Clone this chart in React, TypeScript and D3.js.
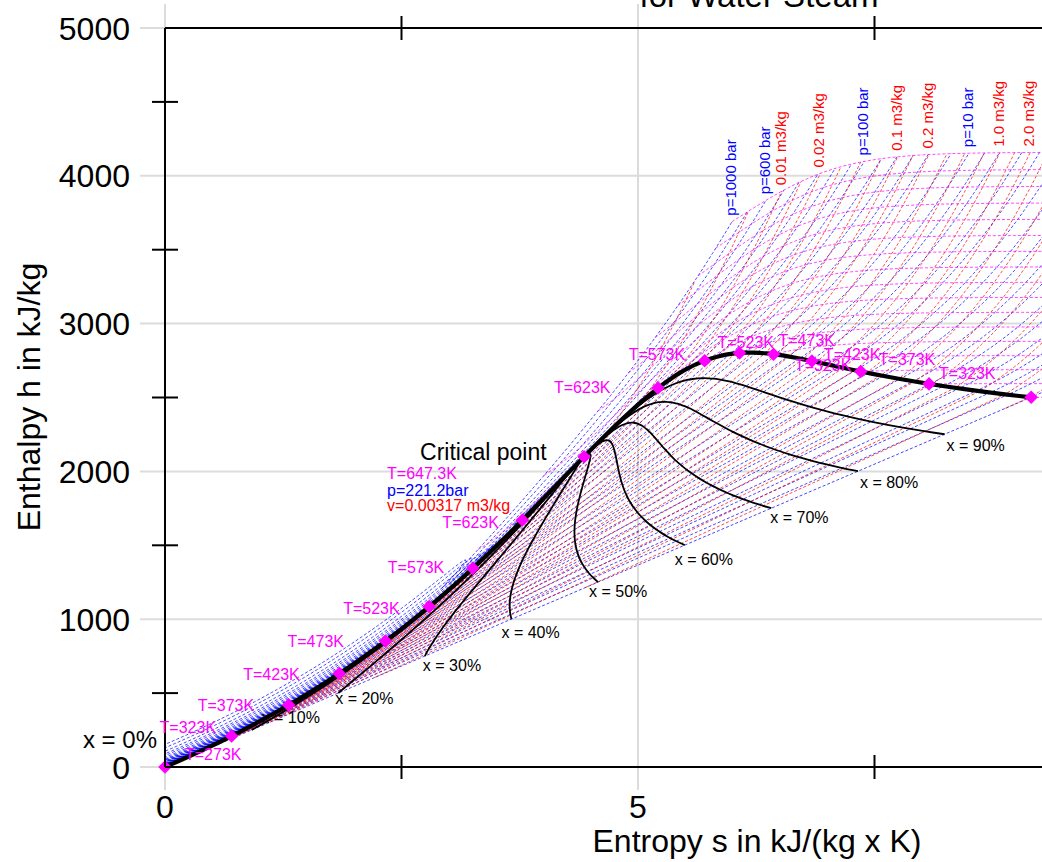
import { useMemo } from "react";
import * as d3 from "d3";

type Pt = { s: number; h: number };

// saturated water / steam (steam table rows)
const satTempC = [0.01, 10, 20, 30, 40, 50, 60, 70, 80, 90, 100, 110, 120, 130, 140, 150, 160, 170, 180, 190, 200, 210, 220, 230, 240, 250, 260, 270, 280, 290, 300, 310, 320, 330, 340, 350, 360, 370, 374.14];
const satPressBar = [0.006113, 0.012276, 0.02339, 0.04246, 0.07384, 0.12349, 0.1994, 0.3119, 0.4739, 0.7014, 1.0135, 1.4327, 1.9853, 2.701, 3.613, 4.758, 6.178, 7.917, 10.021, 12.544, 15.538, 19.062, 23.18, 27.95, 33.44, 39.73, 46.88, 54.99, 64.12, 74.36, 85.81, 98.56, 112.74, 128.39, 145.86, 165.13, 186.51, 210.3, 220.9];
const satHf = [0.01, 42.01, 83.96, 125.79, 167.57, 209.33, 251.13, 292.98, 334.91, 376.92, 419.04, 461.3, 503.71, 546.31, 589.13, 632.2, 675.55, 719.21, 763.22, 807.62, 852.45, 897.76, 943.62, 990.12, 1037.32, 1085.36, 1134.37, 1184.51, 1235.99, 1289.07, 1344.0, 1401.3, 1461.5, 1525.3, 1594.2, 1670.6, 1760.5, 1890.5, 2099.3];
const satHg = [2501.4, 2519.8, 2538.1, 2556.3, 2574.3, 2592.1, 2609.6, 2626.8, 2643.7, 2660.1, 2676.1, 2691.5, 2706.3, 2720.5, 2733.9, 2746.5, 2758.1, 2768.7, 2778.2, 2786.4, 2793.2, 2798.5, 2802.1, 2804.0, 2803.8, 2801.5, 2796.6, 2789.7, 2779.6, 2766.2, 2749.0, 2727.3, 2700.1, 2666.3, 2622.0, 2563.9, 2481.0, 2332.1, 2099.3];
const satSf = [0, 0.151, 0.2966, 0.4369, 0.5725, 0.7038, 0.8312, 0.9549, 1.0753, 1.1925, 1.3069, 1.4185, 1.5276, 1.6344, 1.7391, 1.8418, 1.9427, 2.0419, 2.1396, 2.2359, 2.3309, 2.4248, 2.5178, 2.6099, 2.7015, 2.7927, 2.8838, 2.9751, 3.0668, 3.1594, 3.2534, 3.3493, 3.448, 3.5507, 3.6594, 3.7777, 3.9147, 4.1106, 4.4298];
const satSg = [9.1562, 8.9008, 8.6672, 8.4533, 8.257, 8.0763, 7.9096, 7.7553, 7.6122, 7.4791, 7.3549, 7.2387, 7.1296, 7.0269, 6.9299, 6.8379, 6.7502, 6.6663, 6.5857, 6.5079, 6.4323, 6.3585, 6.2861, 6.2146, 6.1437, 6.073, 6.0019, 5.9301, 5.8571, 5.7821, 5.7045, 5.623, 5.5362, 5.4417, 5.3357, 5.2112, 5.0526, 4.7971, 4.4298];
const satVf = [0.001, 0.001, 0.001002, 0.001004, 0.001008, 0.001012, 0.001017, 0.001023, 0.001029, 0.001036, 0.001043, 0.001052, 0.00106, 0.00107, 0.00108, 0.001091, 0.001102, 0.001114, 0.001127, 0.001141, 0.001157, 0.001173, 0.00119, 0.001209, 0.001229, 0.001251, 0.001276, 0.001302, 0.001332, 0.001366, 0.001404, 0.001447, 0.001499, 0.001561, 0.001638, 0.00174, 0.001893, 0.002213, 0.003155];
const satVg = [206.14, 106.38, 57.79, 32.89, 19.52, 12.03, 7.671, 5.042, 3.407, 2.361, 1.6729, 1.2102, 0.8919, 0.6685, 0.5089, 0.3928, 0.3071, 0.2428, 0.19405, 0.15654, 0.12736, 0.10441, 0.08619, 0.07158, 0.05976, 0.05013, 0.04221, 0.03564, 0.03017, 0.02557, 0.02167, 0.01835, 0.01549, 0.013, 0.0108, 0.008813, 0.006945, 0.004925, 0.003155];

// low pressure steam (ideal gas limit): h in kJ/kg, s at 1 bar
const idealTempC = [0, 50, 100, 150, 200, 250, 300, 350, 400, 450, 500, 550, 600, 650, 700, 750, 800];
const idealH = [2501.7, 2593.9, 2688.2, 2783.4, 2879.8, 2977.5, 3076.7, 3177.3, 3279.7, 3383.6, 3489.2, 3596.6, 3705.5, 3816.3, 3928.8, 4042.7, 4159.1];
const idealS1bar = [6.8035, 7.1122, 7.3852, 7.6255, 7.8411, 8.0375, 8.2186, 8.3876, 8.545, 8.6926, 8.8351, 8.9686, 9.0981, 9.2206, 9.3401, 9.4533, 9.5654];

// iso-lines drawn
const isobarBar = [1000, 800, 600, 450, 350, 250, 180, 130, 100, 70, 50, 35, 25, 15, 10, 7, 5, 3, 2, 1.2, 0.8, 0.5, 0.3, 0.2, 0.12, 0.08, 0.05, 0.03, 0.02, 0.012, 0.00612];
const isochoreM3 = [0.004, 0.006, 0.01, 0.014, 0.02, 0.03, 0.045, 0.07, 0.1, 0.14, 0.2, 0.3, 0.45, 0.7, 1.0, 1.4, 2.0, 3.0, 5.0, 8.0, 13, 25, 50, 100, 200];
const isothermK = [273.15, 323.15, 373.15, 423.15, 473.15, 523.15, 573.15, 623.15, 673.15, 723.15, 773.15, 823.15, 873.15, 923.15, 973.15, 1023.15, 1073.15];
const qualities = [0.1, 0.2, 0.3, 0.4, 0.5, 0.6, 0.7, 0.8, 0.9];
const qualityText = ["x = 10%", "x = 20%", "x = 30%", "x = 40%", "x = 50%", "x = 60%", "x = 70%", "x = 80%", "x = 90%"];

const labeledIsobars = [1000, 600, 100, 10];
const labeledIsobarText = ["p=1000 bar", "p=600 bar", "p=100 bar", "p=10 bar"];
const labeledIsochores = [0.01, 0.02, 0.1, 0.2, 1.0, 2.0];
const labeledIsochoreText = ["0.01 m3/kg", "0.02 m3/kg", "0.1 m3/kg", "0.2 m3/kg", "1.0 m3/kg", "2.0 m3/kg"];

const markerRows = [0, 5, 10, 15, 20, 25, 30, 35];
const markerText = ["T=273K", "T=323K", "T=373K", "T=423K", "T=473K", "T=523K", "T=573K", "T=623K"];
const critText = ["T=647.3K", "p=221.2bar", "v=0.00317 m3/kg"];

const enthalpyTicks = [0, 1000, 2000, 3000, 4000, 5000];
const enthalpyMinor = [500, 1500, 2500, 3500, 4500];
const entropyTicks = [0, 5];
const entropyMinor = [2.5, 7.5];

// label offsets in px (layout only)
const liqLabelOff = [[20, -7], [-72, -3], [-91, 6], [-96, 6], [-98, 6], [-86, 7], [-85, 5], [-80, 8]];
const vapLabelOff = [[14, -3], [10, -5], [18, -6], [12, -1], [5, -8], [-22, -5], [-76, -1], [-104, 5]];
const qualityOff = [[10, -7], [-3, 11], [-2, 15], [-10, 19], [-9, 15], [-10, 20], [-1, 15], [2, 17], [2, 17]];

const FONT = "'Liberation Sans', Arial, Helvetica, sans-serif";
const x = d3.scaleLinear().domain([0, 5]).range([165, 638]);
const y = d3.scaleLinear().domain([0, 5000]).range([767, 28]);

// ---- property helpers (steam tables + Peng-Robinson departures) ----
const R = 0.461526;
const TC = 647.29, PC = 220.9;
const KAP = 0.37464 + 1.54226 * 0.3443 - 0.26992 * 0.3443 * 0.3443;
const AC = (0.45724 * R * R * TC * TC) / (PC * 100);
const BC = (0.0778 * R * TC) / (PC * 100);
const S2 = Math.SQRT2;
const satTK = satTempC.map((t) => t + 273.15);
const idealTK = idealTempC.map((t) => t + 273.15);
const lnPsat = satPressBar.map(Math.log);
const nlnVg = satVg.map((v) => -Math.log(v));

const idx = (arr: number[], v: number) => Math.max(0, Math.min(arr.length - 2, d3.bisectRight(arr, v) - 1));

function igH(T: number) {
  const i = idx(idealTK, T);
  const f = (T - idealTK[i]) / (idealTK[i + 1] - idealTK[i]);
  return idealH[i] + f * (idealH[i + 1] - idealH[i]);
}
function igS(T: number) {
  const i = idx(idealTK, T);
  const f = Math.log(T / idealTK[i]) / Math.log(idealTK[i + 1] / idealTK[i]);
  return idealS1bar[i] + f * (idealS1bar[i + 1] - idealS1bar[i]);
}
function satAt(T: number) {
  const i = idx(satTK, T);
  const f = Math.max(0, Math.min(1, (T - satTK[i]) / (satTK[i + 1] - satTK[i])));
  const lin = (a: number[]) => a[i] + f * (a[i + 1] - a[i]);
  const lg = (a: number[]) => Math.exp(Math.log(a[i]) + f * (Math.log(a[i + 1]) - Math.log(a[i])));
  return { p: lg(satPressBar), hf: lin(satHf), hg: lin(satHg), sf: lin(satSf), sg: lin(satSg), vf: lin(satVf), vg: lg(satVg) };
}
function tsatOfP(p: number) {
  const l = Math.log(p), i = idx(lnPsat, l);
  const f = (l - lnPsat[i]) / (lnPsat[i + 1] - lnPsat[i]);
  return satTK[i] + f * (satTK[i + 1] - satTK[i]);
}
function tsatOfV(v: number) {
  const l = -Math.log(v), i = idx(nlnVg, l);
  const f = (l - nlnVg[i]) / (nlnVg[i + 1] - nlnVg[i]);
  return satTK[i] + f * (satTK[i + 1] - satTK[i]);
}

function cubicRoots(c2: number, c1: number, c0: number) {
  const q = (3 * c1 - c2 * c2) / 9;
  const r = (9 * c2 * c1 - 27 * c0 - 2 * c2 * c2 * c2) / 54;
  const disc = q * q * q + r * r;
  let zs: number[];
  if (disc >= 0) {
    const sd = Math.sqrt(disc);
    zs = [Math.cbrt(r + sd) + Math.cbrt(r - sd) - c2 / 3];
  } else {
    const th = Math.acos(Math.max(-1, Math.min(1, r / Math.sqrt(-q * q * q))));
    const m = 2 * Math.sqrt(-q);
    zs = [0, 1, 2].map((k) => m * Math.cos((th + 2 * Math.PI * k) / 3) - c2 / 3);
  }
  return zs.map((z0) => {
    let z = z0;
    for (let k = 0; k < 6; k++) {
      const f = ((z + c2) * z + c1) * z + c0;
      const fp = (3 * z + 2 * c2) * z + c1;
      if (Math.abs(fp) < 1e-14) break;
      const dz = f / fp;
      if (Math.abs(dz) > 0.05 * Math.abs(z) + 1e-12) break;
      z -= dz;
    }
    return z;
  });
}

function pr(T: number, pBar: number, phase: string) {
  const p = pBar * 100, RT = R * T;
  const m = 1 + KAP * (1 - Math.sqrt(T / TC));
  const a = AC * m * m, da = (-AC * KAP * m) / Math.sqrt(T * TC);
  const A = (a * p) / (RT * RT), B = (BC * p) / RT;
  let zs = cubicRoots(-(1 - B), A - 3 * B * B - 2 * B, -(A * B - B * B - B * B * B)).filter((z) => z > B && Number.isFinite(z));
  if (!zs.length) zs = [1];
  const lt = (z: number) => Math.log((z + (1 + S2) * B) / (z + (1 - S2) * B));
  let Z = zs[0];
  if (phase === "V") Z = Math.max(...zs);
  else if (phase === "L") Z = Math.min(...zs);
  else {
    let best = Infinity;
    for (const z of zs) {
      const lp = z - 1 - Math.log(z - B) - (A / (2 * S2 * B)) * lt(z);
      if (lp < best) { best = lp; Z = z; }
    }
  }
  const L = lt(Z);
  return { Z, h: RT * (Z - 1) + ((T * da - a) / (2 * S2 * BC)) * L, s: R * Math.log(Z - B) + (da / (2 * S2 * BC)) * L };
}

const crit = pr(TC + 0.05, PC, "A");
const KH_C = (2099.3 - igH(TC)) / crit.h;
const KS_C = (4.4298 - (igS(TC) - R * Math.log(PC))) / crit.s;
const KZ_C = ((0.003155 * PC * 100) / (R * TC) - 1) / (crit.Z - 1);

const anchorCache = new Map<string, { h: number; s: number; z: number }>();
function anchor(T: number, ph: string) {
  const key = ph + T.toFixed(4);
  let k = anchorCache.get(key);
  if (!k) {
    if (T < TC) {
      const st = satAt(T);
      const rs = pr(T, st.p, ph);
      const h0 = ph === "V" ? st.hg : st.hf, s0 = ph === "V" ? st.sg : st.sf, v0 = ph === "V" ? st.vg : st.vf;
      k = {
        h: (h0 - igH(T)) / rs.h,
        s: (s0 - (igS(T) - R * Math.log(st.p))) / rs.s,
        z: ((v0 * st.p * 100) / (R * T) - 1) / (rs.Z - 1),
      };
    } else {
      const f = Math.max(0, 1 - (T - TC) / 120);
      k = { h: 1 + (KH_C - 1) * f, s: 1 + (KS_C - 1) * f, z: 1 + (KZ_C - 1) * f };
    }
    anchorCache.set(key, k);
  }
  return k;
}
function state(T: number, p: number, phase?: string) {
  let ph = phase;
  if (T >= TC) ph = "A";
  else if (!ph) ph = p < satAt(T).p ? "V" : "L";
  const r = pr(T, p, ph);
  const k = anchor(T, ph === "A" ? "V" : ph);
  return { s: igS(T) - R * Math.log(p) + k.s * r.s, h: igH(T) + k.h * r.h, v: ((1 + k.z * (r.Z - 1)) * R * T) / (p * 100) };
}

const tGrid = d3.range(273.15, 1073.16, 10);

function isobarPoints(p: number): Pt[] {
  const pts: Pt[] = [];
  if (p < PC) {
    const Ts = tsatOfP(p);
    for (const T of tGrid) if (T < Ts - 0.5) pts.push(state(T, p, "L"));
    const st = satAt(Ts);
    pts.push({ s: st.sf, h: st.hf }, { s: st.sg, h: st.hg });
    for (const T of tGrid) if (T > Ts + 0.5) pts.push(state(T, p, "V"));
  } else {
    for (const T of d3.range(273.15, 1073.16, 5)) pts.push(state(T, p));
  }
  return pts;
}

function isochorePoints(v: number): Pt[] {
  const Tv = tsatOfV(v);
  const pts: Pt[] = [];
  for (let i = 0; i < satTK.length && satTK[i] < Tv; i++) {
    const q = (v - satVf[i]) / (satVg[i] - satVf[i]);
    pts.push({ s: satSf[i] + q * (satSg[i] - satSf[i]), h: satHf[i] + q * (satHg[i] - satHf[i]) });
  }
  const st = satAt(Tv);
  pts.push({ s: st.sg, h: st.hg });
  for (const T of tGrid) {
    if (T <= Tv + 0.5) continue;
    const ph = T < TC ? "V" : undefined;
    if (T >= TC && state(T, 1000).v > v) break;
    let lo = Math.log(1e-5), hi = Math.log(T < TC ? satAt(T).p : 1000);
    for (let k = 0; k < 36; k++) {
      const mid = (lo + hi) / 2;
      if (state(T, Math.exp(mid), ph).v > v) lo = mid; else hi = mid;
    }
    pts.push(state(T, Math.exp((lo + hi) / 2), ph));
  }
  return pts;
}

function isothermPoints(T: number): Pt[] {
  const pts: Pt[] = [];
  const ratio = Math.pow(10, 0.04);
  const start = T < TC ? satAt(T).p : 1000;
  for (let p = start; p > 1e-5; p /= ratio) {
    const q = state(T, p, T < TC ? "V" : undefined);
    pts.push(q);
    if (q.s > 9.6) break;
  }
  return pts;
}

const diamond = d3.symbol(d3.symbolSquare, 92)();

export default function App() {
  const c = useMemo(() => {
    const line = d3.line<Pt>().x((d) => x(d.s)).y((d) => y(d.h)).defined((d) => Number.isFinite(d.s) && Number.isFinite(d.h));
    const smooth = d3.line<Pt>().x((d) => x(d.s)).y((d) => y(d.h)).curve(d3.curveCatmullRom.alpha(0.5));
    const isobars = isobarBar.map((p) => ({ p, pts: isobarPoints(p) }));
    const isochores = isochoreM3.map((v) => ({ v, pts: isochorePoints(v) }));
    const isotherms = isothermK.map((T) => isothermPoints(T));
    const liquid: Pt[] = satTK.map((_, i) => ({ s: satSf[i], h: satHf[i] }));
    const vapor: Pt[] = satTK.map((_, i) => ({ s: satSg[i], h: satHg[i] })).reverse();
    const qlines = qualities.map((q) => satTK.map((_, i) => ({ s: satSf[i] + q * (satSg[i] - satSf[i]), h: satHf[i] + q * (satHg[i] - satHf[i]) })));
    const pLabels = labeledIsobars.map((p, i) => {
      const pts = isobars.find((b) => b.p === p)!.pts;
      return { text: labeledIsobarText[i], end: pts[pts.length - 1] };
    });
    const vLabels = labeledIsochores.map((v, i) => {
      const pts = isochores.find((b) => b.v === v)!.pts;
      return { text: labeledIsochoreText[i], end: pts[pts.length - 1] };
    });
    return {
      isobarPaths: isobars.map((b) => line(b.pts) || ""),
      isochorePaths: isochores.map((b) => line(b.pts) || ""),
      isothermPaths: isotherms.map((pts) => line(pts) || ""),
      dome: smooth([...liquid, ...vapor]) || "",
      qpaths: qlines.map((pts) => smooth(pts) || ""),
      qends: qlines.map((pts) => pts[0]),
      pLabels,
      vLabels,
    };
  }, []);

  const crx = x(4.4298), cry = y(2099.3);
  const dash = { fill: "none", strokeWidth: 0.9, strokeDasharray: "3,2", strokeOpacity: 0.8 };

  return (
    <svg width={1042} height={862} style={{ position: "absolute", left: 0, top: 0, background: "#fff" }} fontFamily={FONT}>
      <defs>
        <clipPath id="plot">
          <rect x={165} y={28} width={1042 - 165} height={767 - 28} />
        </clipPath>
      </defs>
      {/* grid */}
      {enthalpyTicks.map((h) => (
        <line key={"gh" + h} x1={140} x2={1042} y1={y(h)} y2={y(h)} stroke="#dcdcdc" strokeWidth={2} />
      ))}
      {entropyTicks.map((s) => (
        <line key={"gs" + s} x1={x(s)} x2={x(s)} y1={4} y2={790} stroke="#dcdcdc" strokeWidth={2} />
      ))}

      <g clipPath="url(#plot)">
        {c.isobarPaths.map((d, i) => (
          <path key={"pb" + i} d={d} stroke="#0000ff" {...dash} />
        ))}
        {c.isochorePaths.map((d, i) => (
          <path key={"pv" + i} d={d} stroke="#ff0000" {...dash} />
        ))}
        {c.isothermPaths.map((d, i) => (
          <path key={"pt" + i} d={d} stroke="#ff00ff" {...dash} />
        ))}
        {c.qpaths.map((d, i) => (
          <path key={"q" + i} d={d} fill="none" stroke="#000" strokeWidth={1.8} />
        ))}
        <path d={c.dome} fill="none" stroke="#000" strokeWidth={4.2} strokeLinejoin="round" />
      </g>

      {/* saturation markers */}
      {markerRows.map((r) => (
        <g key={"m" + r}>
          <path d={diamond} transform={`translate(${x(satSf[r])},${y(satHf[r])}) rotate(45)`} fill="#ff00ff" />
          <path d={diamond} transform={`translate(${x(satSg[r])},${y(satHg[r])}) rotate(45)`} fill="#ff00ff" />
        </g>
      ))}
      <path d={diamond} transform={`translate(${crx},${cry}) rotate(45)`} fill="#ff00ff" />

      {/* axes */}
      <line x1={165} x2={165} y1={28} y2={767} stroke="#000" strokeWidth={2} />
      <line x1={165} x2={1042} y1={28} y2={28} stroke="#000" strokeWidth={2} />
      <line x1={165} x2={1042} y1={767} y2={767} stroke="#000" strokeWidth={2} />
      {enthalpyMinor.map((h) => (
        <line key={"mh" + h} x1={152} x2={178} y1={y(h)} y2={y(h)} stroke="#000" strokeWidth={2} />
      ))}
      {entropyMinor.map((s) => (
        <g key={"ms" + s}>
          <line x1={x(s)} x2={x(s)} y1={16} y2={40} stroke="#000" strokeWidth={2} />
          <line x1={x(s)} x2={x(s)} y1={755} y2={779} stroke="#000" strokeWidth={2} />
        </g>
      ))}
      {enthalpyTicks.map((h) => (
        <text key={"th" + h} x={130} y={y(h) + 11.5} textAnchor="end" fontSize={32}>
          {h}
        </text>
      ))}
      {entropyTicks.map((s) => (
        <text key={"ts" + s} x={x(s)} y={818} textAnchor="middle" fontSize={32}>
          {s}
        </text>
      ))}
      <text x={757} y={852} textAnchor="middle" fontSize={32}>
        Entropy s in kJ/(kg x K)
      </text>
      <text transform="translate(40,397) rotate(-90)" textAnchor="middle" fontSize={32}>
        Enthalpy h in kJ/kg
      </text>
      <text x={759} y={7} textAnchor="middle" fontSize={33}>
        for Water Steam
      </text>

      {/* saturation labels */}
      {markerRows.map((r, i) => (
        <g key={"ml" + r} fontSize={16} fill="#ff00ff">
          <text x={x(satSf[r]) + liqLabelOff[i][0]} y={y(satHf[r]) + liqLabelOff[i][1]}>
            {markerText[i]}
          </text>
          <text x={x(satSg[r]) + vapLabelOff[i][0]} y={y(satHg[r]) + vapLabelOff[i][1]}>
            {markerText[i]}
          </text>
        </g>
      ))}
      <text x={x(satSg[15]) - 17} y={y(satHg[15]) + 10} fontSize={16} fill="#ff00ff">
        {markerText[1]}
      </text>
      <text x={crx - 164} y={cry + 3} fontSize={23}>
        Critical point
      </text>
      <text x={crx - 197} y={cry + 22} fontSize={16} fill="#ff00ff">
        {critText[0]}
      </text>
      <text x={crx - 197} y={cry + 39} fontSize={16} fill="#0000ff">
        {critText[1]}
      </text>
      <text x={crx - 197} y={cry + 54} fontSize={16} fill="#ff0000">
        {critText[2]}
      </text>

      {/* quality labels */}
      {c.qends.map((p, i) => (
        <text key={"ql" + i} x={x(p.s) + qualityOff[i][0]} y={y(p.h) + qualityOff[i][1]} fontSize={16}>
          {qualityText[i]}
        </text>
      ))}
      <text x={x(0) - 8} y={y(0) - 19} textAnchor="end" fontSize={24}>
        x = 0%
      </text>

      {/* line labels at the top isotherm */}
      {c.pLabels.map((l) => (
        <text key={l.text} transform={`translate(${x(l.end.s) + 4},${y(l.end.h) - 6}) rotate(-90)`} fontSize={15} fill="#0000ff">
          {l.text}
        </text>
      ))}
      {c.vLabels.map((l) => (
        <text key={l.text} transform={`translate(${x(l.end.s) + 4},${y(l.end.h) - 6}) rotate(-90)`} fontSize={15} fill="#ff0000">
          {l.text}
        </text>
      ))}
    </svg>
  );
}
